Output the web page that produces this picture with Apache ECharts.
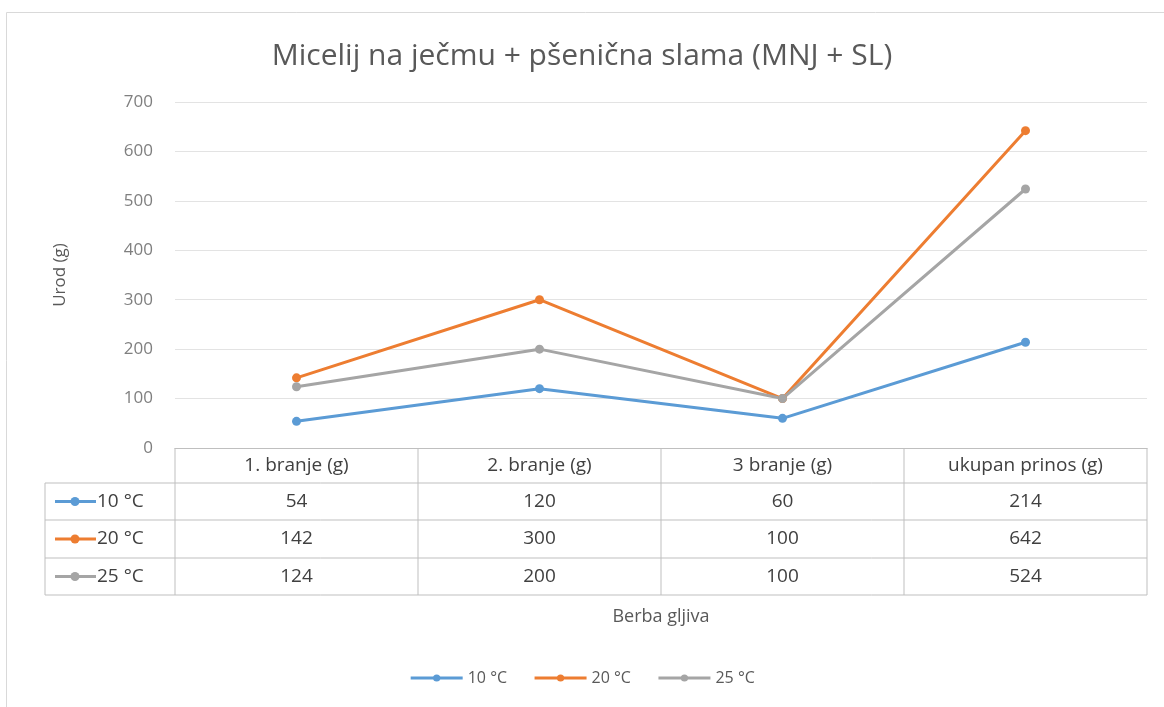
<!DOCTYPE html>
<html>
<head>
<meta charset="utf-8">
<script src="https://cdn.jsdelivr.net/npm/echarts@6/dist/echarts.min.js"></script>
<style>
  html, body { margin: 0; padding: 0; background: #fff; }
  #chart { width: 1164px; height: 707px; }
</style>
</head>
<body>
<div id="chart"></div>
<script>
// podaci
var categories = ['1. branje (g)', '2. branje (g)', '3 branje (g)', 'ukupan prinos (g)']
var seriesNames = ['10 °C', '20 °C', '25 °C']
var t10 = [54, 120, 60, 214]
var t20 = [142, 300, 100, 642]
var t25 = [124, 200, 100, 524]
var colors = ['#5B9BD5', '#ED7D31', '#A5A5A5']

var FONT = 'Open Sans'
var chart = echarts.init(document.getElementById('chart'))
var allData = [t10, t20, t25]

var option = {
  color: colors,
  animation: false,
  title: {
    text: 'Micelij na ječmu + pšenična slama (MNJ + SL)',
    left: 'center',
    top: 36,
    textStyle: { color: '#595959', fontSize: 30, fontWeight: 'normal', fontFamily: FONT },
  },
  grid: { left: 175, right: 17, top: 102, bottom: 259 },
  legend: {
    bottom: 16,
    left: 'center',
    itemWidth: 52,
    itemHeight: 9,
    itemGap: 26,
    lineStyle: { width: 3 },
    textStyle: { color: '#595959', fontSize: 16, fontFamily: FONT },
    data: seriesNames,
  },
  xAxis: {
    type: 'category',
    data: categories,
    boundaryGap: true,
    axisLine: { lineStyle: { color: '#bfbfbf' } },
    axisTick: { show: false },
    axisLabel: { show: false },
  },
  yAxis: {
    type: 'value',
    min: 0,
    max: 700,
    interval: 100,
    name: 'Urod (g)',
    nameLocation: 'middle',
    nameGap: 106,
    nameTextStyle: { color: '#595959', fontSize: 17, fontFamily: FONT },
    axisLabel: { color: '#7f7f7f', fontSize: 17, fontFamily: FONT, margin: 22 },
    axisLine: { show: false },
    axisTick: { show: false },
    splitLine: { lineStyle: { color: '#e3e3e3' } },
  },
  series: allData.map(function (d, i) {
    return {
      name: seriesNames[i],
      type: 'line',
      data: d,
      symbol: 'circle',
      symbolSize: 9,
      lineStyle: { width: 3 },
    }
  }),
}
chart.setOption(option)

// tablica podataka ispod grafa
function buildTable() {
  var g = []
  var left = 175, right = 1147
  var yTop = 448
  var rows = [yTop, 483, 520, 558, 595]
  var colLeft = 45
  var lineColor = '#bfbfbf'
  var tf = '19px ' + FONT
  var bounds = [left]
  for (var c = 0; c < categories.length; c++) {
    var xc = chart.convertToPixel({ xAxisIndex: 0 }, categories[c])
    var half = (right - left) / categories.length / 2
    bounds.push(xc + half)
    g.push({
      type: 'text',
      x: xc, y: (rows[0] + rows[1]) / 2,
      style: { text: categories[c], fill: '#404040', font: tf, align: 'center', verticalAlign: 'middle' },
    })
    for (var s = 0; s < allData.length; s++) {
      g.push({
        type: 'text',
        x: xc, y: (rows[s + 1] + rows[s + 2]) / 2,
        style: { text: String(allData[s][c]), fill: '#404040', font: tf, align: 'center', verticalAlign: 'middle' },
      })
    }
  }
  // horizontalne linije
  for (var r = 1; r < rows.length; r++) {
    g.push({ type: 'line', shape: { x1: colLeft, y1: rows[r], x2: right, y2: rows[r] }, style: { stroke: lineColor, lineWidth: 1 } })
  }
  // vertikalne linije
  bounds.forEach(function (x) {
    g.push({ type: 'line', shape: { x1: x, y1: yTop, x2: x, y2: rows[4] }, style: { stroke: lineColor, lineWidth: 1 } })
  })
  g.push({ type: 'line', shape: { x1: colLeft, y1: rows[1], x2: colLeft, y2: rows[4] }, style: { stroke: lineColor, lineWidth: 1 } })
  // legenda u tablici
  for (var s2 = 0; s2 < seriesNames.length; s2++) {
    var yc = (rows[s2 + 1] + rows[s2 + 2]) / 2
    g.push({ type: 'line', shape: { x1: 55, y1: yc, x2: 96, y2: yc }, style: { stroke: colors[s2], lineWidth: 3 } })
    g.push({ type: 'circle', shape: { cx: 75, cy: yc, r: 4.5 }, style: { fill: colors[s2] } })
    g.push({
      type: 'text', x: 97, y: yc,
      style: { text: seriesNames[s2], fill: '#404040', font: tf, align: 'left', verticalAlign: 'middle' },
    })
  }
  // naziv x osi
  g.push({
    type: 'text', x: (left + right) / 2, y: 617,
    style: { text: 'Berba gljiva', fill: '#595959', font: '18px ' + FONT, align: 'center', verticalAlign: 'middle' },
  })
  // okvir
  g.push({ type: 'rect', shape: { x: 6.5, y: 12.5, width: 1170, height: 700 }, style: { fill: 'none', stroke: '#d9d9d9', lineWidth: 1 } })
  chart.setOption({ graphic: g })
}
buildTable()
</script>
</body>
</html>
